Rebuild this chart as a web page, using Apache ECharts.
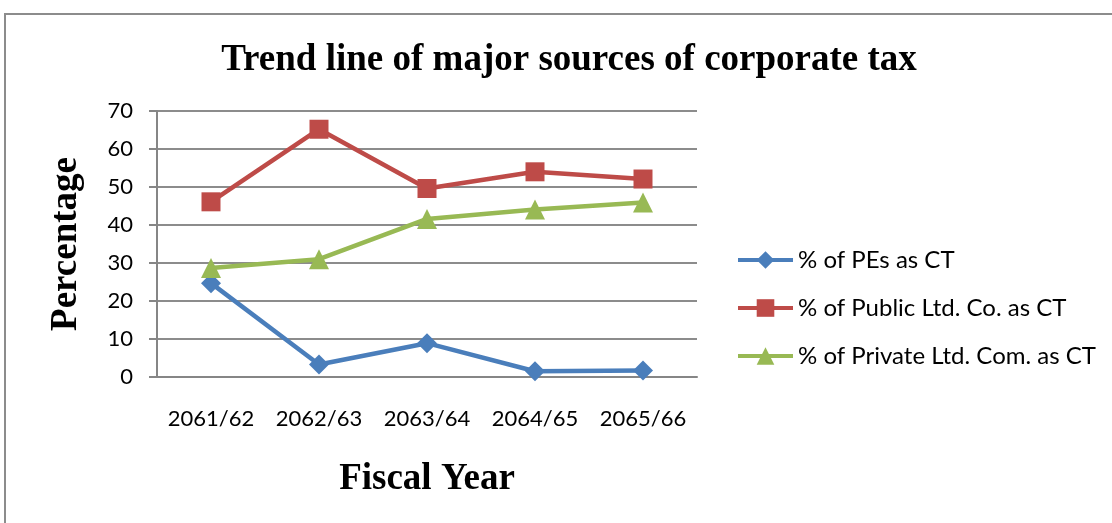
<!DOCTYPE html>
<html>
<head>
<meta charset="utf-8">
<script src="https://cdn.jsdelivr.net/npm/echarts@6/dist/echarts.min.js"></script>
<style>
  html, body { margin: 0; padding: 0; background: #ffffff; }
  #chart { width: 1112px; height: 523px; }
</style>
</head>
<body>
<div id="chart"></div>
<script>
// Fiscal years on the category axis
const categories = ['2061/62', '2062/63', '2063/64', '2064/65', '2065/66'];

// Share of corporate tax (%) by source
const pesShare = [24.7, 3.3, 8.9, 1.5, 1.7];
const publicCoShare = [46.1, 65.2, 49.6, 54.0, 52.1];
const privateCoShare = [28.7, 31.0, 41.6, 44.1, 45.9];

const seriesNames = ['% of PEs as CT', '% of Public Ltd. Co. as CT', '% of Private Ltd. Com. as CT'];

// Y axis range
const yMin = 0, yMax = 70, yStep = 10;

const sansFont = 'Lato, "Open Sans", sans-serif';
const serifFont = '"Liberation Serif", "DejaVu Serif", serif';

const chart = echarts.init(document.getElementById('chart'), null, { renderer: 'canvas' });

function lineSeries(name, data, color, symbol, size) {
  return {
    name: name,
    type: 'line',
    data: data,
    symbol: symbol,
    symbolSize: size,
    showAllSymbol: true,
    lineStyle: { color: color, width: 4.5 },
    itemStyle: { color: color },
    emphasis: { disabled: true },
    animation: false
  };
}

chart.setOption({
  backgroundColor: '#ffffff',
  animation: false,
  title: {
    text: 'Trend line of major sources of corporate tax',
    left: 564,
    top: 37,
    textAlign: 'center',
    textStyle: { fontFamily: serifFont, fontWeight: 'bold', fontSize: 37, color: '#000000' }
  },
  graphic: [{
    type: 'rect',
    shape: { x: 5, y: 14, width: 1200, height: 600 },
    style: { fill: 'none', stroke: '#8c8c8c', lineWidth: 2 },
    silent: true
  }],
  legend: {
    orient: 'vertical',
    left: 731,
    top: 243,
    itemWidth: 55,
    itemHeight: 22,
    itemGap: 24,
    data: seriesNames,
    lineStyle: { width: 4 },
    textStyle: { fontFamily: sansFont, fontSize: 24, color: '#000000', lineHeight: 24 }
  },
  grid: { left: 157, right: 415, top: 111, bottom: 146, containLabel: false },
  xAxis: {
    type: 'category',
    data: categories,
    boundaryGap: true,
    name: 'Fiscal Year',
    nameLocation: 'middle',
    nameGap: 84,
    nameTextStyle: { fontFamily: serifFont, fontWeight: 'bold', fontSize: 37, color: '#000000' },
    axisLine: { lineStyle: { color: '#868686', width: 2 } },
    axisTick: { show: false },
    axisLabel: { interval: 0, hideOverlap: false, margin: 31, fontFamily: sansFont, fontSize: 22, color: '#000000' },
    splitLine: { show: false }
  },
  yAxis: {
    type: 'value',
    min: yMin,
    max: yMax,
    interval: yStep,
    name: 'Percentage',
    nameLocation: 'middle',
    nameGap: 72,
    nameTextStyle: { fontFamily: serifFont, fontWeight: 'bold', fontSize: 37, color: '#000000' },
    axisLine: { show: true, lineStyle: { color: '#868686', width: 2 } },
    axisTick: { show: true, length: 8, lineStyle: { color: '#868686', width: 2 } },
    axisLabel: { margin: 24, fontFamily: sansFont, fontSize: 22, color: '#000000' },
    splitLine: { show: true, lineStyle: { color: '#8c8c8c', width: 2 } }
  },
  series: [
    lineSeries(seriesNames[0], pesShare, '#4A7EBB', 'diamond', 20),
    lineSeries(seriesNames[1], publicCoShare, '#BE4B48', 'rect', 19),
    lineSeries(seriesNames[2], privateCoShare, '#98B954', 'triangle', 20)
  ]
});
</script>
</body>
</html>
